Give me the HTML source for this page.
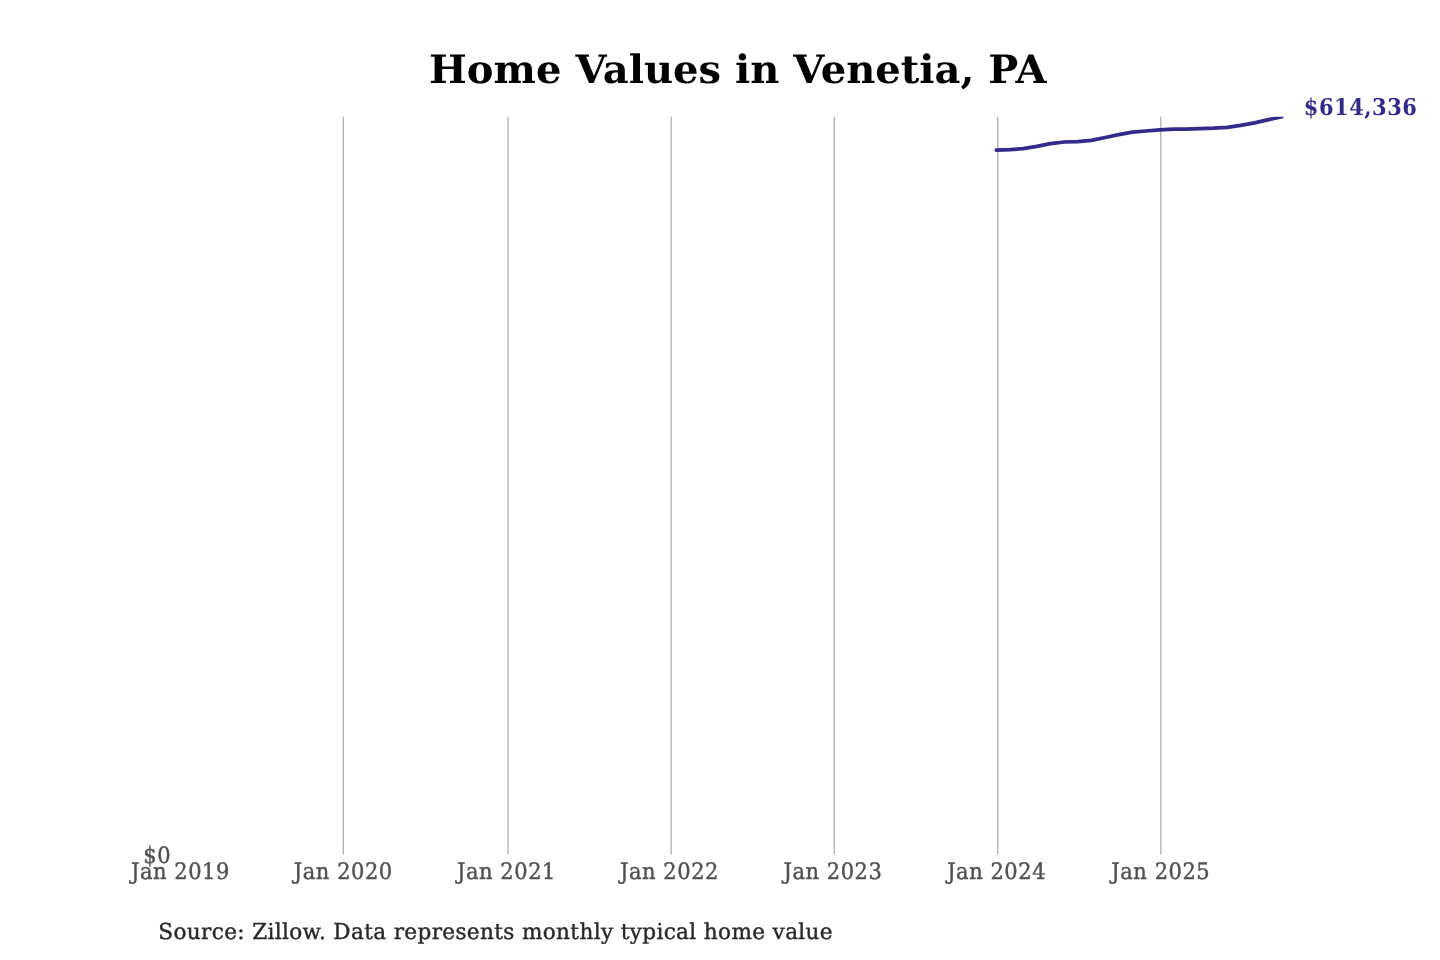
<!DOCTYPE html>
<html lang="en">
<head>
<meta charset="utf-8">
<title>Home Values in Venetia, PA</title>
<style>
html,body{margin:0;padding:0;background:#fff;}
body{width:1440px;height:960px;overflow:hidden;}
svg{display:block;}
text{font-family:"DejaVu Serif","Liberation Serif",serif;text-rendering:geometricPrecision;}
.title{font-size:40.05px;font-weight:bold;fill:#000;}
.ticks text{font-size:21.05px;letter-spacing:0.52px;fill:#505050;stroke:#505050;stroke-width:0.4;}
.src{font-size:21.6px;letter-spacing:0.35px;fill:#282828;stroke:#282828;stroke-width:0.4;}
.val{font-size:21.0px;letter-spacing:0.5px;font-weight:bold;fill:#342a8a;}
.grid line{stroke:#b0b0b0;stroke-width:1.33;}
</style>
</head>
<body>
<svg width="1440" height="960" viewBox="0 0 1440 960">
<rect width="1440" height="960" fill="#fff"/>
<defs><clipPath id="ax"><rect x="180" y="116.7" width="1118" height="738.3"/></clipPath></defs>
<text class="title" transform="translate(737.8 83) scale(1 0.977)" text-anchor="middle">Home Values in Venetia, PA</text>
<g class="grid">
<line x1="343.3" y1="116.7" x2="343.3" y2="854.5" />
<line x1="508.1" y1="116.7" x2="508.1" y2="854.5" />
<line x1="671.2" y1="116.7" x2="671.2" y2="854.5" />
<line x1="834.3" y1="116.7" x2="834.3" y2="854.5" />
<line x1="997.7" y1="116.7" x2="997.7" y2="854.5" />
<line x1="1160.8" y1="116.7" x2="1160.8" y2="854.5" />
</g>
<g clip-path="url(#ax)">
<polyline points="996.3,150.2 1010.1,149.6 1023.1,148.7 1036.9,146.4 1050.3,143.7 1064.2,142.0 1077.6,141.7 1091.4,140.3 1105.3,137.5 1118.7,134.6 1132.5,132.2 1145.9,131.0 1159.8,129.9 1173.6,129.2 1186.1,129.1 1200.0,128.7 1213.4,128.2 1227.2,127.3 1240.7,125.4 1254.5,122.9 1268.4,119.7 1281.8,116.7" fill="none" stroke="#342a8a" stroke-width="3.75" stroke-linecap="round" stroke-linejoin="round"/>
</g>
<text class="val" transform="translate(1303.8 115) scale(1 1.10)">$614,336</text>
<g class="ticks">
<text transform="translate(171.2 863) scale(1 1.075)" text-anchor="end">$0</text>
<text transform="translate(180.45 879) scale(1 1.075)" text-anchor="middle">Jan 2019</text>
<text transform="translate(343.3 879) scale(1 1.075)" text-anchor="middle">Jan 2020</text>
<text transform="translate(506.5 879) scale(1 1.075)" text-anchor="middle">Jan 2021</text>
<text transform="translate(669.5 879) scale(1 1.075)" text-anchor="middle">Jan 2022</text>
<text transform="translate(832.95 879) scale(1 1.075)" text-anchor="middle">Jan 2023</text>
<text transform="translate(996.6 879) scale(1 1.075)" text-anchor="middle">Jan 2024</text>
<text transform="translate(1160.8 879) scale(1 1.075)" text-anchor="middle">Jan 2025</text>
</g>
<text class="src" transform="translate(158.3 939) scale(1 1.015)">Source: Zillow. Data represents monthly typical home value</text>
</svg>
</body>
</html>
